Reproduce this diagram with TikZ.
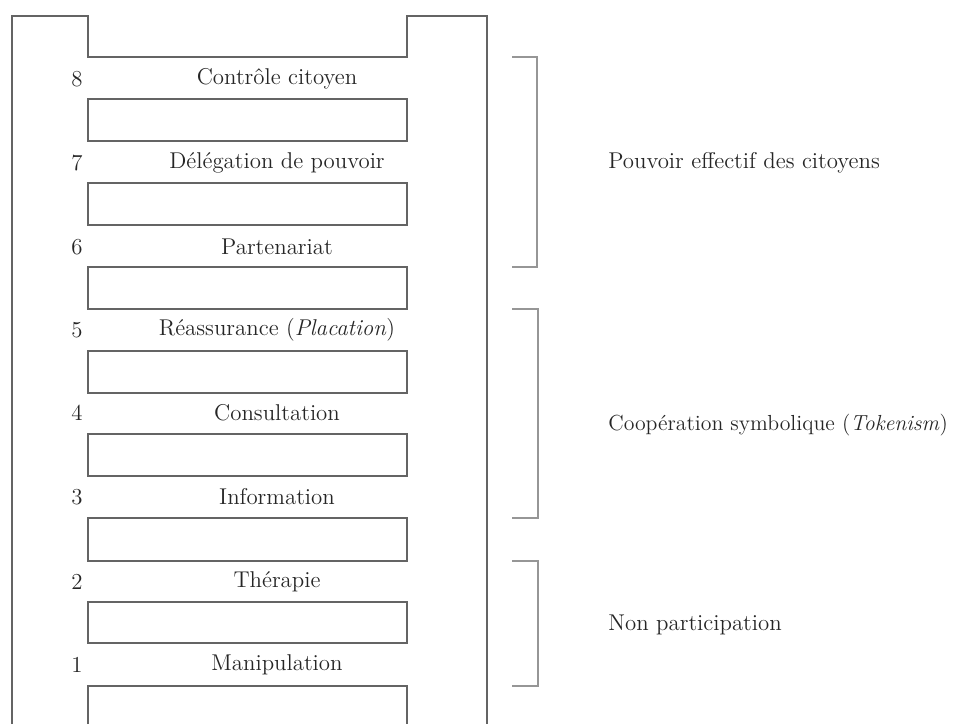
\documentclass[tikz,border=0pt]{standalone}
\usepackage{xcolor}
\usepackage{tikz}

\definecolor{ladder}{RGB}{100,100,100}
\definecolor{brace}{RGB}{150,150,150}

\begin{document}
\begin{tikzpicture}[scale=0.2]
\tikzstyle{every node}+=[inner sep=0pt, font=\fontsize{13}{15}\selectfont, text=black!85]
\tikzstyle{rung}=[draw=ladder, line width=1.1pt]
\tikzstyle{brk}=[draw=brace, line width=0.6pt]
\useasboundingbox (0,0) rectangle (95.7,-72.4);
% frame of the ladder
\draw [rung] (1.2,-72.4) -- (1.2,-1.6) -- (8.8,-1.6) -- (8.8,-5.7) -- (40.7,-5.7) -- (40.7,-1.6) -- (48.7,-1.6) -- (48.7,-72.4);
% rungs
\draw [rung] (8.8,-9.9) rectangle (40.7,-14.1);
\draw [rung] (8.8,-18.3) rectangle (40.7,-22.5);
\draw [rung] (8.8,-26.7) rectangle (40.7,-30.9);
\draw [rung] (8.8,-35.1) rectangle (40.7,-39.3);
\draw [rung] (8.8,-43.4) rectangle (40.7,-47.6);
\draw [rung] (8.8,-51.8) rectangle (40.7,-56.1);
\draw [rung] (8.8,-60.2) rectangle (40.7,-64.3);
\draw [rung] (8.8,-72.4) -- (8.8,-68.6) -- (40.7,-68.6) -- (40.7,-72.4);
% levels
\node (num8) at (7.7,-7.9) {8};
\node (lvl8) at (27.7,-7.9) {Contrôle citoyen};
\node (num7) at (7.7,-16.3) {7};
\node (lvl7) at (27.7,-16.3) {Délégation de pouvoir};
\node (num6) at (7.7,-24.7) {6};
\node (lvl6) at (27.7,-24.7) {Partenariat};
\node (num5) at (7.7,-33.0) {5};
\node (lvl5) at (27.7,-33.0) {Réassurance (\textit{Placation})};
\node (num4) at (7.7,-41.3) {4};
\node (lvl4) at (27.7,-41.3) {Consultation};
\node (num3) at (7.7,-49.7) {3};
\node (lvl3) at (27.7,-49.7) {Information};
\node (num2) at (7.7,-58.2) {2};
\node (lvl2) at (27.7,-58.2) {Thérapie};
\node (num1) at (7.7,-66.5) {1};
\node (lvl1) at (27.7,-66.5) {Manipulation};
% groups
\draw [brk] (51.2,-5.7) -- (53.7,-5.7) -- (53.7,-26.7) -- (51.2,-26.7);
\node (pouvoir) [anchor=west] at (60.8,-16.3) {Pouvoir effectif des citoyens};
\draw [brk] (51.2,-30.9) -- (53.8,-30.9) -- (53.8,-51.8) -- (51.2,-51.8);
\node (symbolique) [anchor=west, font=\fontsize{12.4}{15}\selectfont] at (60.8,-42.5) {Coopération symbolique (\textit{Tokenism})};
\draw [brk] (51.2,-56.1) -- (53.8,-56.1) -- (53.8,-68.6) -- (51.2,-68.6);
\node (nonpart) [anchor=west] at (60.8,-62.5) {Non participation};
\end{tikzpicture}
\end{document}
